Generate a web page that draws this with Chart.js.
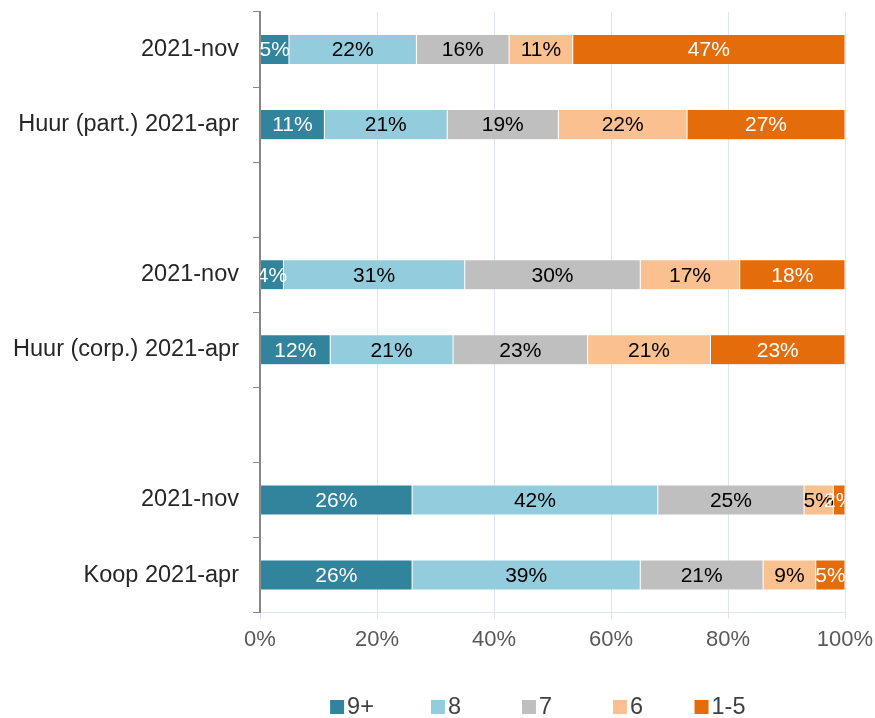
<!DOCTYPE html>
<html>
<head>
<meta charset="utf-8">
<script src="https://cdn.jsdelivr.net/npm/chart.js@4/dist/chart.umd.min.js"></script>
<style>
html,body{margin:0;padding:0;background:#fff;}
#wrap{width:875px;height:718px;position:relative;}
</style>
</head>
<body>
<div id="wrap"><canvas id="c" width="875" height="718"></canvas></div>
<script>
const categories = ['2021-nov', 'Huur (part.) 2021-apr', '', '2021-nov', 'Huur (corp.) 2021-apr', '', '2021-nov', 'Koop 2021-apr'];
const seriesNames = ['9+', '8', '7', '6', '1-5'];
const s9plus = [5, 11, null, 4, 12, null, 26, 26];
const s8     = [22, 21, null, 31, 21, null, 42, 39];
const s7     = [16, 19, null, 30, 23, null, 25, 21];
const s6     = [11, 22, null, 17, 21, null, 5, 9];
const s1to5  = [47, 27, null, 18, 23, null, 2, 5];
const xTicks = [0, 20, 40, 60, 80, 100];

const colors = ['#31849B', '#93CDDD', '#BFBFBF', '#FAC090', '#E46C0A'];
const labelColors = ['#ffffff', '#000000', '#000000', '#000000', '#ffffff'];
const raw = [s9plus, s8, s7, s6, s1to5];

// 100% stacked: normalise each row
const totals = categories.map((_, i) => raw.reduce((a, s) => a + (s[i] || 0), 0));
const datasets = raw.map((s, k) => ({
  label: seriesNames[k],
  data: s.map((v, i) => v == null ? null : v / totals[i] * 100),
  rawValues: s,
  backgroundColor: colors[k],
  borderColor: 'rgba(255,255,255,0.35)',
  borderWidth: 0.5,
  borderSkipped: false,
  barPercentage: 0.4,
  categoryPercentage: 1.0
}));

const FONT = 'Liberation Sans, Arial, sans-serif';

const labelPlugin = {
  id: 'segLabels',
  afterDatasetsDraw(chart) {
    const ctx = chart.ctx, area = chart.chartArea;
    ctx.save();
    ctx.beginPath();
    ctx.rect(area.left, area.top, area.right - area.left, area.bottom - area.top);
    ctx.clip();
    ctx.font = '21px ' + FONT;
    ctx.textAlign = 'center';
    ctx.textBaseline = 'middle';
    chart.data.datasets.forEach((ds, k) => {
      const meta = chart.getDatasetMeta(k);
      meta.data.forEach((bar, i) => {
        const v = ds.rawValues[i];
        if (v == null) return;
        const cx = (bar.x + bar.base) / 2;
        ctx.fillStyle = labelColors[k];
        ctx.fillText(v + '%', cx, bar.y + 1);
      });
    });
    ctx.restore();
  }
};

const legendPlugin = {
  id: 'customLegend',
  afterDraw(chart) {
    const ctx = chart.ctx;
    ctx.save();
    ctx.font = '23.5px ' + FONT;
    ctx.textBaseline = 'middle';
    ctx.textAlign = 'left';
    const y = 707;
    const centers = [352, 446, 537, 628, 720];
    chart.data.datasets.forEach((ds, k) => {
      const tw = ctx.measureText(ds.label).width;
      const w = 14 + 3 + tw;
      const x0 = centers[k] - w / 2;
      ctx.fillStyle = ds.backgroundColor;
      ctx.fillRect(x0, y - 7, 14, 14);
      ctx.fillStyle = '#404040';
      ctx.fillText(ds.label, x0 + 17, y + 1);
    });
    ctx.restore();
  }
};

new Chart(document.getElementById('c'), {
  type: 'bar',
  data: { labels: categories, datasets },
  plugins: [labelPlugin, legendPlugin],
  options: {
    indexAxis: 'y',
    responsive: false,
    animation: false,
    devicePixelRatio: 1,
    layout: { padding: { left: 0, right: 30, top: 12, bottom: 57 } },
    plugins: { legend: { display: false }, tooltip: { enabled: false } },
    scales: {
      x: {
        stacked: true,
        min: 0, max: 100,
        afterBuildTicks(scale) { scale.ticks = xTicks.map(v => ({ value: v })); },
        afterFit(scale) { scale.paddingLeft = 0; scale.paddingRight = 0; },
        ticks: {
          callback: v => v + '%',
          color: '#595959',
          font: { family: FONT, size: 22 },
          padding: 8,
          maxRotation: 0
        },
        grid: { color: '#DCE6F2', lineWidth: 1, tickLength: 6 },
        border: { color: '#DCE6F2', width: 1 }
      },
      y: {
        stacked: true,
        afterFit(scale) { scale.width = 260; scale.paddingTop = 0; scale.paddingBottom = 0; },
        ticks: {
          color: '#262626',
          font: { family: FONT, size: 23.5 },
          padding: 14,
          autoSkip: false
        },
        grid: { offset: true, drawOnChartArea: false, color: '#868686', tickLength: 7, lineWidth: 1 },
        border: { color: '#868686', width: 2 }
      }
    }
  }
});
</script>
</body>
</html>
